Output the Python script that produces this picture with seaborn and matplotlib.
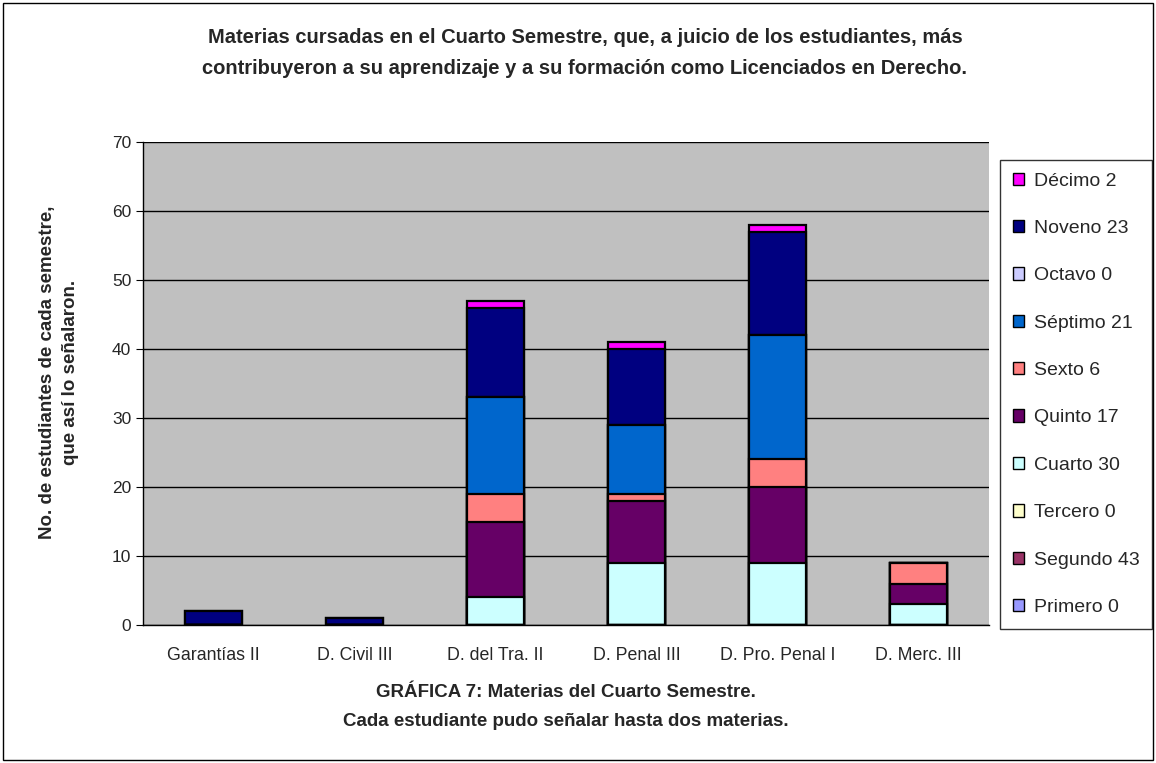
import numpy as np
import matplotlib
matplotlib.use("Agg")
import matplotlib.pyplot as plt
import matplotlib.patches as mpatches
import seaborn as sns

# --- data ---
materias = ["Garantías II", "D. Civil III", "D. del Tra. II", "D. Penal III",
            "D. Pro. Penal I", "D. Merc. III"]

# stacked from bottom to top
primero = [0, 0, 0, 0, 0, 0]
segundo = [0, 0, 0, 0, 0, 0]
tercero = [0, 0, 0, 0, 0, 0]
cuarto = [0, 0, 4, 9, 9, 3]
quinto = [0, 0, 11, 9, 11, 3]
sexto = [0, 0, 4, 1, 4, 3]
septimo = [0, 0, 14, 10, 18, 0]
octavo = [0, 0, 0, 0, 0, 0]
noveno = [2, 1, 13, 11, 15, 0]
decimo = [0, 0, 1, 1, 1, 0]

semestres = ["Primero", "Segundo", "Tercero", "Cuarto", "Quinto",
             "Sexto", "Séptimo", "Octavo", "Noveno", "Décimo"]
encuestados = [0, 43, 0, 30, 17, 6, 21, 0, 23, 2]
colores = ["#9999FF", "#993366", "#FFFFCC", "#CCFFFF", "#660066",
           "#FF8080", "#0066CC", "#CCCCFF", "#000080", "#FF00FF"]

capas = [primero, segundo, tercero, cuarto, quinto, sexto, septimo, octavo, noveno, decimo]

# --- figure ---
sns.set_style("white")
plt.rcParams["font.family"] = ["Liberation Sans", "DejaVu Sans"]

fig = plt.figure(figsize=(11.56, 7.63), dpi=100)
ax = fig.add_axes([143 / 1156, 1 - 625 / 763, (989 - 143) / 1156, (625 - 142) / 763])
ax.set_facecolor("#C0C0C0")

# cumulative tops, drawn tallest first so lower segments sit on top
tops = np.cumsum(np.array(capas, dtype=float), axis=0)
for i in reversed(range(len(capas))):
    sns.barplot(x=materias, y=tops[i], order=materias, color=colores[i],
                saturation=1, width=0.41, edgecolor="black", linewidth=1.6,
                ax=ax)

ax.set_ylim(0, 70)
ax.set_xlim(-0.5, 5.5)
ax.set_yticks(range(0, 71, 10))
ax.yaxis.grid(True, color="black", linewidth=1)
ax.set_axisbelow(True)
for s in ["top", "right"]:
    ax.spines[s].set_visible(False)
for s in ["left", "bottom"]:
    ax.spines[s].set_color("black")
    ax.spines[s].set_linewidth(1)
ax.set_xticks(np.arange(-0.5, 6, 1), minor=True)
ax.tick_params(axis="x", which="major", length=0, labelsize=12.8, pad=16)
ax.tick_params(axis="x", which="minor", length=5, direction="out", color="black")
ax.tick_params(axis="y", length=5, direction="out", color="black", labelsize=12.5, left=True)
ax.set_xlabel("")
ax.set_ylabel("")

# texts
fig.text(585 / 1156, 1 - 53 / 763,
         "Materias cursadas en el Cuarto Semestre, que, a juicio de los estudiantes, más\n"
         "contribuyeron a su aprendizaje y a su formación como Licenciados en Derecho.",
         ha="center", va="center", fontsize=14.5, fontweight="bold", linespacing=1.8)
fig.text(566 / 1156, 1 - 707 / 763,
         "GRÁFICA 7: Materias del Cuarto Semestre.\n"
         "Cada estudiante pudo señalar hasta dos materias.",
         ha="center", va="center", fontsize=13.5, fontweight="bold", linespacing=1.85)
fig.text(59 / 1156, 1 - 372 / 763,
         "No. de estudiantes de cada semestre,\nque así lo señalaron.",
         ha="center", va="center", rotation=90, fontsize=13.5, fontweight="bold",
         linespacing=1.45)

# legend (top entry is Décimo)
handles = [mpatches.Patch(facecolor=c, edgecolor="black", linewidth=1) for c in colores][::-1]
labels = [f"{s} {n}" for s, n in zip(semestres, encuestados)][::-1]
leg = fig.legend(handles, labels, loc="upper left",
                 bbox_to_anchor=(1000 / 1156, 1 - 160 / 763),
                 frameon=True, fancybox=False, fontsize=14, labelspacing=1.56,
                 handlelength=0.6, handleheight=0.6, handletextpad=0.5,
                 borderpad=0.65, borderaxespad=0)
leg.get_frame().set_edgecolor("black")
leg.get_frame().set_linewidth(1)

# outer border
fig.patches.append(mpatches.Rectangle((3 / 1156, 3 / 763), 1 - 6 / 1156, 1 - 6 / 763,
                                      transform=fig.transFigure, fill=False,
                                      edgecolor="black", linewidth=1))

fig.savefig("out.png", dpi=100)
